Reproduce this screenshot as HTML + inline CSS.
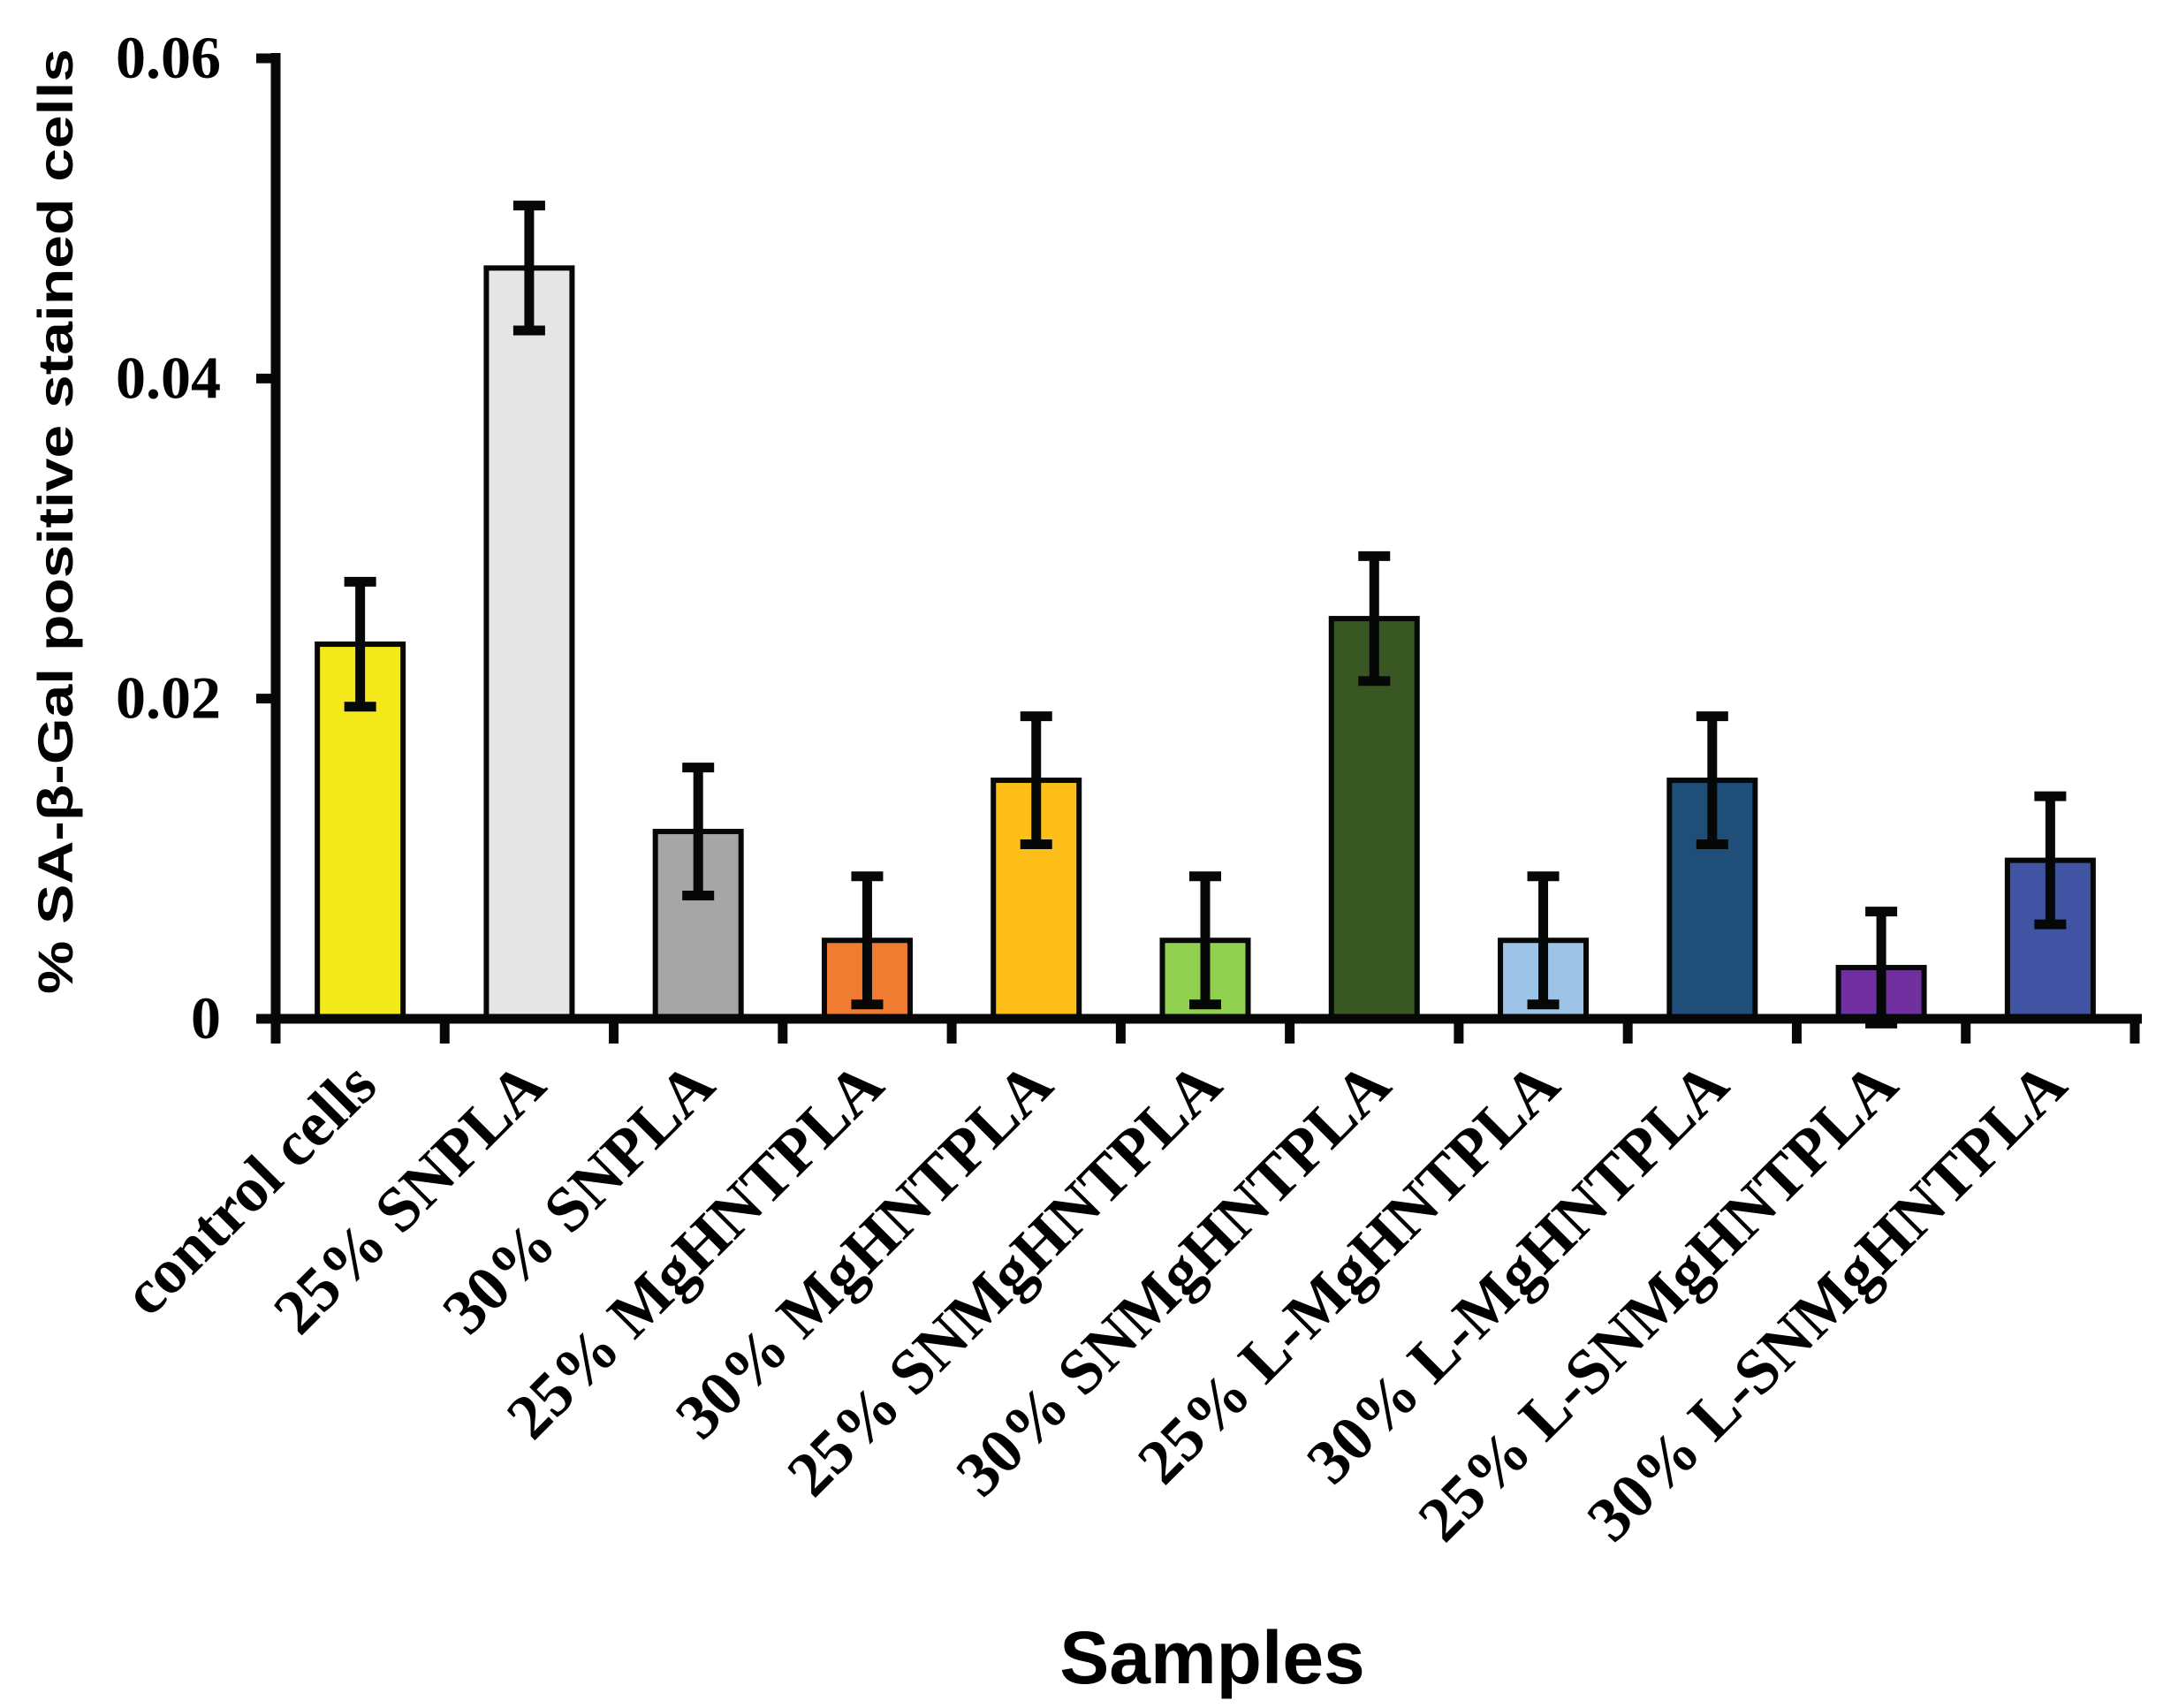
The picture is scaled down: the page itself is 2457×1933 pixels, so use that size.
<!DOCTYPE html>
<html><head><meta charset="utf-8"><style>html,body{margin:0;padding:0;background:#fff}svg{display:block}</style></head>
<body>
<svg id="chart" width="2457" height="1933" viewBox="0 0 2457 1933" xmlns="http://www.w3.org/2000/svg">
<g id="bars"></g>
<g id="axes"></g>
<text transform="translate(82,590) rotate(-90)" text-anchor="middle" font-family="'Liberation Sans Narrow','Liberation Sans',sans-serif" font-weight="bold" font-size="56" textLength="1070" lengthAdjust="spacingAndGlyphs">% SA-β-Gal positive stained cells</text>
<text x="1372" y="1905" text-anchor="middle" font-family="'Liberation Sans',sans-serif" font-weight="bold" font-size="84">Samples</text>
</svg>
<script>
const categories = ["control cells","25% SNPLA","30% SNPLA","25% MgHNTPLA","30% MgHNTPLA","25% SNMgHNTPLA","30% SNMgHNTPLA","25% L-MgHNTPLA","30% L-MgHNTPLA","25% L-SNMgHNTPLA","30% L-SNMgHNTPLA"];
const values = [0.0234,0.0469,0.0117,0.0049,0.0149,0.0049,0.025,0.0049,0.0149,0.0032,0.0099];
const errors = [0.0039,0.0039,0.004,0.004,0.004,0.004,0.0039,0.004,0.004,0.0035,0.004];
const colors = ["#f2e81a","#e6e6e6","#a6a6a6","#ee7d31","#fdbf17","#92d050","#385723","#9dc3e6","#1f4e79","#7030a0","#4154a3"];
const yTicks = [0,0.02,0.04,0.06];
const yTickLabels = ["0","0.02","0.04","0.06"];

const NS="http://www.w3.org/2000/svg";
const x0=312, xEnd=2416, y0=1153, yTop=66, yMax=0.06;
const catW=(xEnd-x0)/categories.length;
function yS(v){return y0-(v/yMax)*(y0-yTop);}
function xC(i){return x0+catW*(i+0.5);}
function mk(tag,attrs,parent){const e=document.createElementNS(NS,tag);for(const k in attrs)e.setAttribute(k,attrs[k]);parent.appendChild(e);return e;}
const bars=document.getElementById('bars'), axes=document.getElementById('axes'), svg=document.getElementById('chart');
const bw=97;
categories.forEach((c,i)=>{
  const cx=xC(i), top=yS(values[i]);
  const r=mk('rect',{x:cx-bw/2,y:top,width:bw,height:y0-top,fill:colors[i],stroke:'#060808','stroke-width':6},bars);
  
  
  const eh=yS(values[i]+errors[i]), el=yS(values[i]-errors[i]);
  const g=mk('g',{stroke:'#060808','stroke-width':11},bars);
  
  
  mk('line',{x1:cx,y1:eh,x2:cx,y2:el},g);
  mk('line',{x1:cx-18,y1:eh,x2:cx+18,y2:eh},g);
  mk('line',{x1:cx-18,y1:el,x2:cx+18,y2:el},g);
  const t=mk('text',{transform:`translate(${cx+22},1232) rotate(-45)`,'text-anchor':'end','font-family':"'Liberation Serif',serif",'font-weight':'bold','font-size':72},svg);
  t.textContent=c;
  
  
});
const ya=mk('line',{x1:x0,y1:60,x2:x0,y2:y0+28,stroke:'#060808','stroke-width':11},axes);


const xa=mk('line',{x1:x0-20,y1:y0,x2:xEnd+8,y2:y0,stroke:'#060808','stroke-width':11},axes);


for(let i=1;i<=categories.length;i++){
  const tx=x0+catW*i;
  const tk=mk('line',{x1:tx,y1:y0,x2:tx,y2:y0+28,stroke:'#060808','stroke-width':11},axes);
  
  
}
yTicks.forEach((v,i)=>{
  const y=yS(v);
  const tk=mk('line',{x1:x0-22,y1:y,x2:x0,y2:y,stroke:'#060808','stroke-width':11},axes);
  
  
  const t=mk('text',{x:250,y:y+22,'text-anchor':'end','font-family':"'Liberation Serif',serif",'font-weight':'bold','font-size':68},axes);
  t.textContent=yTickLabels[i];
  
  
});
</script>
</body></html>
